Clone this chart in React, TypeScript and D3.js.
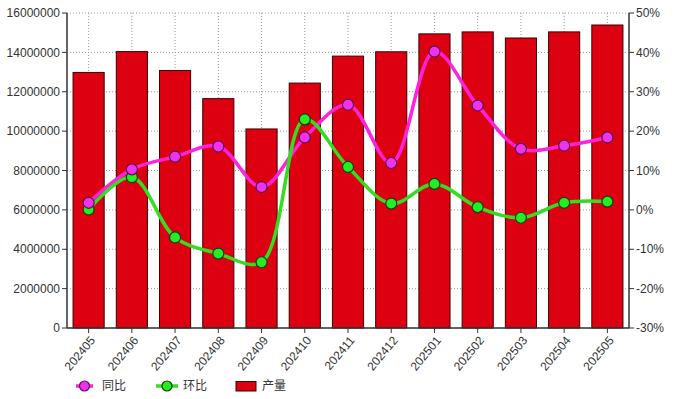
import React from "react";
import * as d3 from "d3";

const categories = ["202405","202406","202407","202408","202409","202410","202411","202412","202501","202502","202503","202504","202505"];
const output = [12980000,14040000,13080000,11650000,10110000,12440000,13810000,14030000,14940000,15040000,14730000,15040000,15390000];
const yoy = [1.8,10.3,13.5,16.1,5.8,18.4,26.7,11.9,40.2,26.5,15.5,16.3,18.4];
const mom = [0.1,8.3,-7.0,-11.1,-13.3,23.0,10.9,1.6,6.6,0.7,-2.0,1.8,2.1];
const leftTicks = [0,2000000,4000000,6000000,8000000,10000000,12000000,14000000,16000000];
const rightTicks = [-30,-20,-10,0,10,20,30,40,50];

const W = 693, H = 399;
const L = 67, R = 629, T = 13, B = 328;
const FONT = "Arial, 'Liberation Sans', sans-serif";
const CJK = "'Noto Sans CJK SC', sans-serif";

export default function App() {
  const x = d3.scaleBand<string>().domain(categories).range([L, R]).paddingInner(0.28).paddingOuter(0.14);
  const yL = d3.scaleLinear().domain([0, 16000000]).range([B, T]);
  const yR = d3.scaleLinear().domain([-30, 50]).range([B, T]);
  const cx = (c: string) => (x(c) as number) + x.bandwidth() / 2;
  const line = d3.line<number>().x((_, i) => cx(categories[i])).curve(d3.curveCatmullRom.alpha(0.5));
  const yoyPath = line.y((d) => yR(d))(yoy) || "";
  const momPath = line.y((d) => yR(d))(mom) || "";

  return (
    <svg width={W} height={H} style={{ position: "absolute", left: 0, top: 0, background: "#fff" }}>
      {/* grid */}
      {leftTicks.map((t) => (
        <line key={"h" + t} x1={L} x2={R} y1={yL(t)} y2={yL(t)} stroke="#999" strokeDasharray="1,2" strokeWidth={1} />
      ))}
      {categories.map((c) => (
        <line key={"v" + c} x1={cx(c)} x2={cx(c)} y1={T} y2={B} stroke="#999" strokeDasharray="1,2" strokeWidth={1} />
      ))}
      {/* bars */}
      {categories.map((c, i) => (
        <rect key={"b" + c} x={x(c) as number} y={yL(output[i])} width={x.bandwidth()} height={B - yL(output[i])}
          fill="#dd0011" stroke="#3a0000" strokeWidth={1} />
      ))}
      {/* axes */}
      <line x1={L} x2={L} y1={T} y2={B} stroke="#333" strokeWidth={1.5} />
      <line x1={R} x2={R} y1={T} y2={B} stroke="#333" strokeWidth={1.5} />
      <line x1={L} x2={R} y1={B} y2={B} stroke="#333" strokeWidth={1.5} />
      {leftTicks.map((t) => (
        <g key={"lt" + t}>
          <line x1={L - 5} x2={L} y1={yL(t)} y2={yL(t)} stroke="#333" />
          <text x={L - 7} y={yL(t)} dy="0.35em" textAnchor="end" fontSize={12} fontFamily={FONT} fill="#333">{t}</text>
        </g>
      ))}
      {rightTicks.map((t) => (
        <g key={"rt" + t}>
          <line x1={R} x2={R + 5} y1={yR(t)} y2={yR(t)} stroke="#333" />
          <text x={R + 7} y={yR(t)} dy="0.35em" textAnchor="start" fontSize={12} fontFamily={FONT} fill="#333">{t + "%"}</text>
        </g>
      ))}
      {categories.map((c) => (
        <g key={"xt" + c}>
          <line x1={cx(c)} x2={cx(c)} y1={B} y2={B + 5} stroke="#333" />
          <text transform={`translate(${cx(c) + 4},${B + 10}) rotate(-50)`} textAnchor="end" dy="0.35em"
            fontSize={12} fontFamily={FONT} fill="#333">{c}</text>
        </g>
      ))}
      {/* lines */}
      <path d={yoyPath} fill="none" stroke="#ff22dd" strokeWidth={3.5} />
      <path d={momPath} fill="none" stroke="#33dd22" strokeWidth={3.5} />
      {categories.map((c, i) => (
        <circle key={"m" + c} cx={cx(c)} cy={yR(mom[i])} r={5.5} fill="#22ee22" stroke="#1a3a10" strokeWidth={1.2} />
      ))}
      {categories.map((c, i) => (
        <circle key={"y" + c} cx={cx(c)} cy={yR(yoy[i])} r={5.5} fill="#ee33ee" stroke="#5a1050" strokeWidth={1.2} />
      ))}
      {/* legend */}
      <g>
        <line x1={76} x2={93} y1={386} y2={386} stroke="#ff22dd" strokeWidth={3.5} />
        <circle cx={84.5} cy={386} r={5} fill="#ee33ee" stroke="#5a1050" strokeWidth={1.2} />
        <text x={102} y={386} dy="0.35em" fontSize={12} fontFamily={CJK} fill="#333">同比</text>
        <line x1={156} x2={178} y1={386} y2={386} stroke="#33dd22" strokeWidth={3.5} />
        <circle cx={167} cy={386} r={5} fill="#22ee22" stroke="#1a3a10" strokeWidth={1.2} />
        <text x={183} y={386} dy="0.35em" fontSize={12} fontFamily={CJK} fill="#333">环比</text>
        <rect x={236} y={381.5} width={20} height={9.5} fill="#dd0011" stroke="#3a0000" strokeWidth={1} />
        <text x={262} y={386} dy="0.35em" fontSize={12} fontFamily={CJK} fill="#333">产量</text>
      </g>
    </svg>
  );
}
